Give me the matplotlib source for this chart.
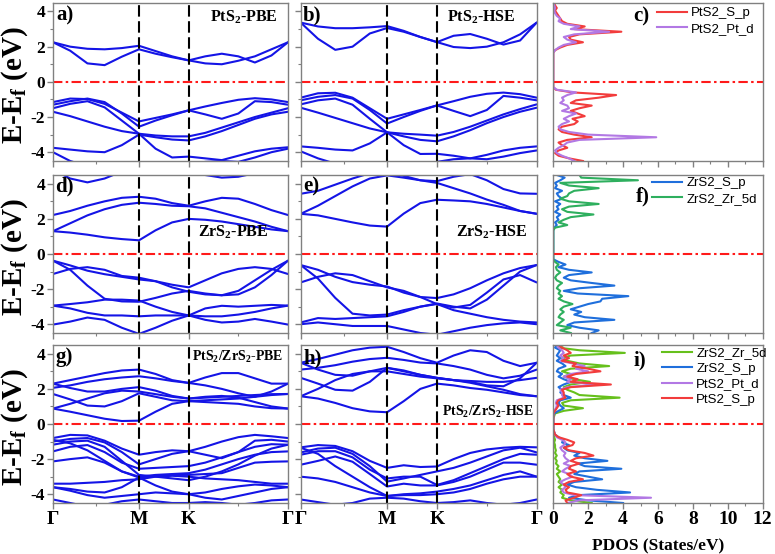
import numpy as np
import matplotlib
matplotlib.use('Agg')
import matplotlib.pyplot as plt

plt.rcParams['font.family'] = 'Liberation Serif'
plt.rcParams['font.weight'] = 'bold'
plt.rcParams['mathtext.fontset'] = 'custom'
plt.rcParams['mathtext.rm'] = 'Liberation Serif:bold'
plt.rcParams['mathtext.bf'] = 'Liberation Serif:bold'
plt.rcParams['mathtext.it'] = 'Liberation Serif:bold'
plt.rcParams['mathtext.default'] = 'bf'

# ---------------- k-path (hexagonal BZ: Γ-M-K-Γ) ----------------
k_labels = ['Γ', 'M', 'K', 'Γ']
seg_GM, seg_MK, seg_KG = 1 / np.sqrt(3), 1 / 3, 2 / 3
frac_GM = [0, 0.2, 0.4, 0.6, 0.8, 1.0]
frac_MK = [1 / 3, 2 / 3, 1.0]
frac_KG = [1 / 6, 2 / 6, 3 / 6, 4 / 6, 5 / 6, 1.0]
kpts = np.concatenate([seg_GM * np.array(frac_GM),
                       seg_GM + seg_MK * np.array(frac_MK),
                       seg_GM + seg_MK + seg_KG * np.array(frac_KG)])
k_M, k_K, k_end = seg_GM, seg_GM + seg_MK, seg_GM + seg_MK + seg_KG

# ---------------- band energies (eV) at the 15 k-points ----------------
pts2_pbe_bands = [
    [2.25, 1.77, 1.05, 0.95, 1.43, 1.85, 1.6, 1.4, 1.22, 1.05, 1.0, 1.2, 1.45, 1.85, 2.25],
    [2.25, 2.0, 1.88, 1.85, 1.92, 2.05, 1.75, 1.45, 1.22, 1.45, 1.6, 1.45, 1.1, 1.5, 2.25],
    [-1.15, -0.95, -0.98, -1.25, -1.75, -2.25, -2.05, -1.85, -1.62, -1.4, -1.2, -1.02, -0.93, -1.0, -1.15],
    [-1.3, -1.1, -0.95, -1.15, -1.8, -2.55, -2.2, -1.9, -1.62, -1.85, -2.1, -1.8, -1.1, -1.15, -1.3],
    [-1.5, -1.25, -1.1, -1.45, -2.2, -2.95, -3.8, -4.3, -4.25, -4.35, -4.45, -4.2, -3.95, -3.8, -3.72],
    [-1.7, -1.95, -2.25, -2.55, -2.8, -2.95, -3.05, -3.1, -3.1, -2.9, -2.6, -2.3, -2.0, -1.75, -1.5],
    [-3.75, -3.85, -3.95, -4.0, -3.6, -3.0, -3.15, -3.28, -3.33, -3.1, -2.8, -2.45, -2.1, -1.85, -1.7],
    [-4.0, -4.5, -4.8, -4.9, -4.9, -4.9, -4.9, -4.8, -4.7, -4.55, -4.5, -4.55, -4.3, -4.0, -3.8],
]
pts2_hse_bands = [
    [3.37, 2.45, 1.82, 2.0, 2.75, 3.06, 2.85, 2.55, 2.26, 1.98, 1.92, 2.0, 2.25, 2.7, 3.37],
    [3.37, 3.15, 3.05, 3.05, 3.1, 3.17, 2.9, 2.55, 2.26, 2.62, 2.72, 2.45, 2.12, 2.35, 3.37],
    [-0.9, -0.65, -0.62, -0.9, -1.5, -2.1, -1.85, -1.6, -1.34, -1.1, -0.85, -0.68, -0.61, -0.7, -0.9],
    [-1.05, -0.85, -0.75, -0.95, -1.6, -2.37, -2.0, -1.65, -1.34, -1.65, -1.95, -1.6, -0.8, -0.9, -1.05],
    [-1.28, -1.05, -0.95, -1.3, -2.1, -2.87, -3.6, -4.1, -4.09, -4.2, -4.35, -4.15, -3.9, -3.75, -3.67],
    [-1.47, -1.75, -2.05, -2.35, -2.65, -2.87, -2.95, -3.0, -3.06, -2.85, -2.55, -2.2, -1.85, -1.55, -1.28],
    [-3.67, -3.75, -3.85, -3.9, -3.5, -2.87, -3.1, -3.3, -3.38, -3.1, -2.75, -2.35, -2.0, -1.7, -1.47],
    [-3.95, -4.35, -4.65, -4.8, -4.8, -4.8, -4.8, -4.7, -4.55, -4.4, -4.35, -4.4, -4.25, -4.05, -3.9],
]
zrs2_pbe_bands = [
    [1.3, 1.22, 1.1, 0.95, 0.85, 0.78, 1.35, 1.8, 2.0, 1.95, 1.85, 1.7, 1.55, 1.4, 1.3],
    [1.3, 1.75, 2.2, 2.55, 2.8, 2.92, 2.85, 2.75, 2.72, 2.6, 2.35, 2.1, 1.85, 1.55, 1.3],
    [2.22, 2.45, 2.75, 3.0, 3.2, 3.26, 3.15, 2.9, 2.75, 3.0, 3.2, 3.15, 2.85, 2.5, 2.22],
    [4.8, 4.3, 4.08, 4.3, 4.7, 5.0, 4.9, 4.7, 4.6, 4.5, 4.35, 4.4, 4.6, 4.8, 4.8],
    [-0.38, -0.65, -0.95, -1.15, -1.3, -1.45, -1.55, -1.75, -1.9, -1.5, -1.1, -0.85, -0.75, -0.85, -1.14],
    [-1.14, -0.85, -0.75, -0.9, -1.25, -1.35, -1.55, -1.9, -2.15, -2.3, -2.35, -2.1, -1.5, -0.9, -0.38],
    [-0.38, -0.9, -1.8, -2.55, -2.7, -2.72, -2.5, -2.25, -2.1, -2.25, -2.35, -2.3, -1.9, -1.2, -0.38],
    [-2.94, -2.85, -2.75, -2.6, -2.6, -2.65, -3.0, -3.3, -3.5, -3.1, -2.95, -3.0, -2.95, -2.9, -2.94],
    [-2.94, -3.1, -3.35, -3.5, -3.5, -3.55, -3.5, -3.5, -3.5, -3.55, -3.55, -3.45, -3.3, -3.1, -2.94],
    [-4.02, -3.85, -3.62, -3.75, -4.2, -4.55, -4.2, -3.8, -3.5, -3.75, -3.9, -3.85, -3.7, -3.85, -4.02],
]
zrs2_hse_bands = [
    [2.29, 2.2, 2.0, 1.8, 1.62, 1.56, 2.3, 2.9, 3.09, 3.05, 3.0, 2.85, 2.65, 2.45, 2.29],
    [2.29, 2.75, 3.3, 3.85, 4.3, 4.48, 4.35, 4.2, 4.05, 3.75, 3.45, 3.1, 2.8, 2.45, 2.29],
    [3.43, 3.6, 3.95, 4.3, 4.6, 4.7, 4.45, 4.2, 4.15, 4.4, 4.55, 4.2, 3.7, 3.45, 3.43],
    [-0.63, -0.9, -1.3, -1.6, -1.75, -1.85, -2.2, -2.45, -2.51, -2.3, -1.95, -1.5, -1.1, -0.8, -0.63],
    [-0.63, -1.4, -2.5, -3.4, -3.5, -3.45, -3.2, -3.0, -2.82, -3.0, -3.1, -2.6, -1.8, -1.0, -0.63],
    [-1.62, -1.3, -1.1, -1.2, -1.55, -1.9, -2.1, -2.45, -2.85, -3.05, -2.9, -2.2, -1.45, -1.2, -1.62],
    [-3.9, -3.65, -3.7, -3.65, -3.6, -3.55, -3.3, -3.0, -2.85, -3.2, -3.4, -3.6, -3.75, -3.85, -3.9],
    [-4.0, -3.9, -4.0, -4.1, -4.1, -4.1, -4.3, -4.5, -4.6, -4.4, -4.2, -4.05, -3.95, -3.9, -4.0],
]
hetero_pbe_bands = [
    [0.88, 0.7, 0.5, 0.3, 0.17, 0.19, 0.7, 1.15, 1.3, 1.25, 1.2, 1.15, 1.0, 0.9, 0.88],
    [0.88, 1.15, 1.45, 1.75, 1.9, 1.85, 1.7, 1.55, 1.45, 1.55, 1.6, 1.5, 1.25, 1.0, 0.88],
    [1.71, 1.4, 1.05, 1.0, 1.3, 1.75, 1.55, 1.35, 1.3, 1.35, 1.4, 1.45, 1.55, 1.65, 1.71],
    [2.3, 2.05, 1.85, 1.85, 2.0, 2.1, 1.9, 1.6, 1.45, 1.5, 1.55, 1.6, 1.65, 1.7, 1.71],
    [2.06, 2.2, 2.4, 2.55, 2.65, 2.72, 2.6, 2.45, 2.34, 2.2, 2.0, 1.75, 1.55, 1.85, 2.3],
    [2.3, 2.5, 2.7, 2.9, 3.05, 3.1, 2.85, 2.5, 2.34, 2.65, 2.9, 2.9, 2.6, 2.3, 2.3],
    [-0.8, -0.62, -0.65, -0.95, -1.4, -1.75, -1.6, -1.5, -1.55, -1.3, -1.0, -0.75, -0.62, -0.7, -0.8],
    [-1.0, -0.85, -0.8, -1.05, -1.6, -2.3, -2.0, -1.7, -1.55, -1.75, -1.95, -1.6, -0.95, -0.9, -1.0],
    [-1.18, -1.0, -0.95, -1.3, -2.1, -2.9, -3.0, -3.1, -3.2, -3.0, -2.7, -2.3, -1.8, -1.4, -1.18],
    [-1.56, -1.3, -1.2, -1.6, -2.2, -2.55, -2.5, -2.45, -2.4, -2.2, -1.9, -1.6, -1.3, -1.15, -1.18],
    [-2.13, -2.0, -1.9, -2.2, -2.7, -3.0, -2.9, -2.85, -2.8, -2.6, -2.3, -2.0, -1.75, -1.6, -1.56],
    [-0.9, -1.1, -1.5, -2.1, -2.7, -3.05, -2.95, -2.9, -2.9, -2.85, -2.8, -2.5, -2.2, -2.15, -2.13],
    [-3.4, -3.4, -3.35, -3.3, -3.2, -3.15, -3.0, -2.95, -3.0, -3.1, -3.15, -3.2, -3.3, -3.4, -3.4],
    [-3.6, -3.7, -3.85, -3.9, -3.6, -3.05, -3.5, -3.85, -4.0, -3.9, -3.7, -3.55, -3.45, -3.5, -3.6],
    [-3.6, -3.8, -4.05, -4.2, -4.1, -4.0, -3.9, -3.95, -4.0, -4.2, -4.3, -4.1, -3.9, -3.7, -3.6],
    [-4.3, -4.5, -4.7, -4.6, -4.4, -4.3, -4.4, -4.5, -4.5, -4.45, -4.5, -4.6, -4.5, -4.35, -4.3],
]
hetero_hse_bands = [
    [1.58, 1.45, 1.2, 0.9, 0.72, 0.67, 1.3, 2.0, 2.3, 2.2, 2.05, 1.95, 1.8, 1.65, 1.58],
    [1.58, 2.0, 2.5, 2.85, 3.0, 3.0, 2.85, 2.7, 2.6, 2.5, 2.35, 2.15, 1.95, 1.7, 1.58],
    [2.63, 2.3, 1.95, 1.9, 2.4, 3.2, 3.0, 2.8, 2.63, 2.5, 2.45, 2.4, 2.4, 2.5, 2.63],
    [3.49, 3.1, 2.8, 2.75, 3.0, 3.2, 3.05, 2.8, 2.63, 2.5, 2.4, 2.2, 2.15, 2.6, 3.49],
    [3.1, 3.2, 3.35, 3.55, 3.7, 3.77, 3.65, 3.5, 3.45, 3.3, 3.1, 2.8, 2.6, 2.75, 3.1],
    [3.49, 3.7, 3.95, 4.2, 4.35, 4.4, 4.1, 3.75, 3.49, 3.9, 4.2, 4.1, 3.6, 3.3, 3.49],
    [-1.33, -1.2, -1.25, -1.55, -2.1, -2.5, -2.35, -2.45, -2.42, -2.0, -1.65, -1.45, -1.35, -1.3, -1.33],
    [-1.62, -1.4, -1.35, -1.7, -2.4, -3.28, -3.1, -2.9, -2.7, -2.5, -2.2, -1.85, -1.5, -1.35, -1.62],
    [-1.75, -1.55, -1.55, -1.9, -2.6, -3.1, -3.0, -3.0, -3.47, -3.2, -2.8, -2.4, -2.0, -1.7, -1.75],
    [-2.32, -2.1, -1.85, -2.15, -2.85, -3.56, -3.4, -3.5, -3.5, -3.3, -3.0, -2.6, -2.2, -2.2, -2.32],
    [-1.35, -1.7, -2.4, -3.0, -3.6, -4.1, -4.0, -3.95, -3.85, -3.7, -3.5, -3.2, -2.9, -2.7, -3.0],
    [-3.0, -3.1, -3.3, -3.6, -3.9, -4.1, -4.05, -4.05, -4.0, -3.9, -3.7, -3.4, -3.15, -3.0, -3.0],
    [-4.3, -4.45, -4.6, -4.5, -4.25, -4.2, -4.25, -4.4, -4.5, -4.45, -4.35, -4.5, -4.6, -4.5, -4.3],
]

# ---------------- PDOS (States/eV) on an energy grid (eV) ----------------
pdos_energy = [-4.5, -4.35, -4.2, -4.05, -3.9, -3.75, -3.6, -3.45, -3.3, -3.15, -3.0, -2.85, -2.7,
               -2.55, -2.4, -2.25, -2.1, -1.95, -1.8, -1.65, -1.5, -1.35, -1.2, -1.05, -0.9, -0.75,
               -0.6, -0.45, -0.3, -0.15, 0.0, 0.15, 0.3, 0.45, 0.6, 0.75, 0.9, 1.05, 1.2, 1.35, 1.5,
               1.65, 1.8, 1.95, 2.1, 2.25, 2.4, 2.55, 2.7, 2.85, 3.0, 3.15, 3.3, 3.45, 3.6, 3.75,
               3.9, 4.05, 4.2, 4.35, 4.5]

pts2_S_p = [1.7, 0.9, 0.3, 0.1, 0.3, 0.8, 0.5, 0.3, 0.8, 2.2, 1.2, 0.5, 0.3, 0.5, 1.2, 1.4, 1.1,
            1.8, 1.4, 1.0, 1.5, 2.2, 1.0, 1.3, 2.6, 3.6, 1.1, 0.15, 0.0,
            0, 0, 0, 0, 0, 0, 0, 0, 0, 0, 0, 0, 0,
            0.1, 0.4, 0.8, 1.7, 1.0, 0.9, 1.5, 3.9, 1.2, 1.8, 0.8, 0.5, 0.4, 0.3, 0.2, 0.1,
            0.2, 0.1, 0.05]
pts2_Pt_d = [1.2, 0.9, 0.5, 0.2, 0.1, 0.3, 0.6, 0.8, 1.5, 5.9, 2.0, 0.9, 0.4, 0.3, 0.5, 0.9, 0.6,
             0.9, 1.3, 0.5, 0.9, 0.8, 0.4, 0.6, 0.5, 0.8, 1.3, 0.2, 0.0,
             0, 0, 0, 0, 0, 0, 0, 0, 0, 0, 0, 0, 0,
             0.1, 0.3, 0.6, 1.3, 0.8, 0.6, 1.2, 3.2, 1.0, 1.5, 0.6, 0.3, 0.4, 0.2, 0.1, 0.05,
             0.1, 0.05, 0.0]

zrs2_S_p = [2.2, 2.6, 1.5, 0.8, 1.2, 3.5, 1.8, 1.2, 1.6, 1.0, 1.5, 2.0, 2.7, 2.8, 4.3, 1.4, 0.6,
            1.5, 3.5, 2.2, 1.0, 0.6, 0.9, 2.2, 0.9, 0.3, 0.7, 0.3, 0.0,
            0, 0, 0, 0, 0, 0, 0, 0, 0, 0, 0,
            0.05, 0.2, 0.1, 0.3, 0.2, 0.4, 0.1, 0.3, 0.2, 0.4, 0.1, 0.5, 0.3, 0.2, 0.5, 0.1,
            0.2, 0.1, 0.4, 0.65, 0.2]
zrs2_Zr_5d = [1.0, 0.4, 1.0, 0.2, 0.4, 0.6, 0.3, 0.4, 0.6, 0.4, 0.6, 1.1, 0.6, 0.3, 0.5, 0.3, 0.4,
              0.2, 0.3, 0.5, 0.2, 0.1, 0.2, 0.4, 0.2, 0.15, 0.3, 0.1, 0.0,
              0, 0, 0, 0, 0, 0, 0, 0, 0, 0, 0,
              0.1, 0.8, 0.3, 0.6, 1.0, 2.3, 0.8, 0.5, 0.9, 2.6, 0.9, 0.4, 0.8, 0.9, 1.2, 2.6,
              0.9, 0.4, 4.85, 1.6, 1.5]

het_Zr_5d = [2.2, 1.0, 0.5, 0.6, 0.4, 0.5, 0.3, 0.5, 0.3, 0.4, 0.3, 0.2, 0.4, 0.2, 0.3, 0.15,
             0.2, 0.1, 0.2, 0.1, 0.15, 0.1, 0.1, 0.05, 0.1, 0.05, 0.05, 0.0, 0.0,
             0, 0, 0, 0, 0.05,
             0.1, 0.6, 1.7, 0.6, 0.5, 1.0, 3.8, 1.5, 1.2, 0.8, 0.6, 1.0, 2.1, 1.2, 0.6, 1.0,
             0.5, 1.0, 3.2, 1.5, 0.8, 0.5, 1.0, 4.1, 1.5, 0.3, 0.6]
het_ZrS2_S_p = [4.0, 2.0, 0.9, 1.5, 4.4, 2.5, 1.3, 0.8, 1.2, 2.8, 2.0, 1.2, 1.5, 3.9, 1.8, 1.4,
                3.1, 1.8, 1.2, 1.5, 0.8, 0.6, 0.9, 0.5, 0.6, 0.3, 0.1, 0.05, 0.0,
                0, 0, 0, 0, 0,
                0.05, 0.3, 0.6, 0.4, 0.3, 0.4, 1.0, 0.6, 0.4, 0.5, 0.3, 0.6, 1.0, 0.6, 0.3, 0.5,
                0.2, 0.3, 0.7, 0.5, 0.2, 0.4, 0.2, 0.3, 0.4, 0.1, 0.2]
het_Pt_d = [0.8, 1.5, 5.6, 1.2, 0.6, 0.5, 0.7, 0.6, 0.4, 0.7, 1.1, 0.9, 0.5, 0.7, 1.0, 0.6,
            0.9, 0.7, 0.6, 0.7, 0.5, 0.4, 0.6, 0.7, 0.5, 0.2, 0.1, 0.05, 0.0,
            0, 0, 0, 0, 0,
            0.0, 0.05, 0.15, 0.2, 0.15, 0.2, 0.6, 0.5, 0.5, 0.4, 0.8, 2.6, 0.8, 1.0, 0.6, 1.0,
            2.0, 1.3, 1.8, 1.1, 0.4, 0.6, 0.4, 0.6, 0.5, 0.3, 0.2]
het_PtS2_S_p = [0.8, 0.7, 1.2, 1.6, 0.8, 0.7, 0.9, 0.6, 0.9, 1.7, 1.0, 0.8, 1.3, 0.9, 1.0, 1.5,
                1.0, 1.3, 2.3, 1.8, 0.9, 0.6, 1.1, 1.2, 0.8, 0.3, 0.1, 0.05, 0.0,
                0, 0, 0, 0, 0,
                0.0, 0.1, 0.2, 0.3, 0.2, 0.3, 0.7, 0.6, 0.6, 0.5, 1.0, 3.3, 1.0, 1.4, 0.8, 1.3,
                2.7, 2.0, 1.1, 1.3, 0.5, 0.9, 0.6, 1.0, 0.8, 0.5, 0.3]

# ---------------- styling ----------------
band_color = '#1414e6'
c_red, c_purple = '#f23c3c', '#b278e4'
c_blue, c_green_f, c_green_i = '#1f6fdc', '#2eaf5e', '#66c01c'
frame_color = '#808080'
zero_style = dict(color='#ff1a1a', lw=1.5, ls=(0, (4.5, 1.6, 1.2, 1.6)))
vline_style = dict(color='black', lw=1.5, ls=(0, (5.5, 2.2)))

W, H = 775, 554
fig = plt.figure(figsize=(W / 100, H / 100), dpi=100)


def add_ax(l, r, t, b):
    return fig.add_axes([l / W, 1 - b / H, (r - l) / W, (b - t) / H])


def ftext(x, y, s, **kw):
    fig.text(x / W, 1 - y / H, s, **kw)


cols = [(53, 288), (300.7, 536.7), (553.3, 762.7)]
rows = [(2.7, 161), (175, 333), (345, 503)]


def style_frame(ax):
    for sp in ax.spines.values():
        sp.set_color(frame_color)
        sp.set_linewidth(1.0)
    ax.tick_params(which='both', direction='out', color=frame_color)
    ax.tick_params(which='major', length=4, width=1)
    ax.tick_params(which='minor', length=2.5, width=0.8)


def band_panel(ax, bands, show_x, show_y):
    for b in bands:
        ax.plot(kpts, b, color=band_color, lw=1.5, solid_capstyle='round')
    ax.axhline(0, **zero_style)
    for kv in (k_M, k_K):
        ax.axvline(kv, **vline_style)
    ax.set_xlim(0, k_end)
    ax.set_ylim(-4.5, 4.5)
    ax.set_xticks([0, k_M, k_K, k_end])
    ax.set_xticks([k_M / 2, (k_K + k_end) / 2], minor=True)
    ax.set_yticks([-4, -2, 0, 2, 4])
    ax.set_yticks([-3, -1, 1, 3], minor=True)
    style_frame(ax)
    if show_x:
        ax.set_xticklabels(k_labels, fontsize=14, fontweight='bold')
        ax.tick_params(axis='x', pad=2)
    else:
        ax.set_xticklabels([])
    if show_y:
        ax.set_yticklabels(['-4', '-2', '0', '2', '4'], fontsize=12.5, fontweight='bold')
        ax.tick_params(axis='y', pad=1.5)
    else:
        ax.set_yticklabels([])


def pdos_panel(ax, series, show_x):
    for vals, color, lab in series:
        ax.plot(vals, pdos_energy, color=color, lw=1.5, label=lab)
    ax.axhline(0, **zero_style)
    ax.set_xlim(0, 12)
    ax.set_ylim(-4.5, 4.5)
    ax.set_xticks([0, 2, 4, 6, 8, 10, 12])
    ax.set_xticks([1, 3, 5, 7, 9, 11], minor=True)
    ax.set_yticks([])
    style_frame(ax)
    if show_x:
        ax.set_xticklabels(['0', '2', '4', '6', '8', '10', '12'], fontsize=14, fontweight='bold')
        ax.tick_params(axis='x', pad=2)
    else:
        ax.set_xticklabels([])


band_sets = [[pts2_pbe_bands, pts2_hse_bands],
             [zrs2_pbe_bands, zrs2_hse_bands],
             [hetero_pbe_bands, hetero_hse_bands]]
pdos_sets = [
    [(pts2_S_p, c_red, 'PtS2_S_p'), (pts2_Pt_d, c_purple, 'PtS2_Pt_d')],
    [(zrs2_S_p, c_blue, 'ZrS2_S_p'), (zrs2_Zr_5d, c_green_f, 'ZrS2_Zr_5d')],
    [(het_Zr_5d, c_green_i, 'ZrS2_Zr_5d'), (het_ZrS2_S_p, c_blue, 'ZrS2_S_p'),
     (het_Pt_d, c_purple, 'PtS2_Pt_d'), (het_PtS2_S_p, c_red, 'PtS2_S_p')],
]
legend_pos = [(657, 7), (652, 177), (662, 347)]

for r, (t, b) in enumerate(rows):
    for c in range(2):
        ax = add_ax(cols[c][0], cols[c][1], t, b)
        band_panel(ax, band_sets[r][c], show_x=(r == 2), show_y=(c == 0))
    axp = add_ax(cols[2][0], cols[2][1], t, b)
    pdos_panel(axp, pdos_sets[r], show_x=(r == 2))
    lx, ly = legend_pos[r]
    axp.legend(loc='upper left', bbox_to_anchor=(lx / W, 1 - ly / H),
               bbox_transform=fig.transFigure, frameon=False, borderpad=0,
               borderaxespad=0, handlelength=2.3, handletextpad=0.3,
               labelspacing=0.25, prop={'family': 'Liberation Sans', 'weight': 'normal', 'size': 9.5})
    # y-axis label
    ftext(15, (t + b) / 2 + 3, 'E-E$_f$ (eV)', rotation=90, ha='center', va='center',
          fontsize=21, fontweight='bold')

# panel letters
letters = [('a)', 56, 15), ('b)', 303, 15), ('c)', 633, 16),
           ('d)', 55, 186), ('e)', 303, 186), ('f)', 636, 196),
           ('g)', 55, 357), ('h)', 303, 358), ('i)', 634, 360)]
for s, x, y in letters:
    ftext(x, y, s, ha='left', va='center', fontsize=15, fontweight='bold')

# system labels
ftext(244, 17, 'PtS$_2$-PBE', ha='center', va='center', fontsize=11.5, fontweight='bold')
ftext(481, 17, 'PtS$_2$-HSE', ha='center', va='center', fontsize=11.5, fontweight='bold')
ftext(233, 232, 'ZrS$_2$-PBE', ha='center', va='center', fontsize=11.5, fontweight='bold')
ftext(492, 232, 'ZrS$_2$-HSE', ha='center', va='center', fontsize=11.5, fontweight='bold')
ftext(238, 357, 'PtS$_2$/ZrS$_2$-PBE', ha='center', va='center', fontsize=10, fontweight='bold')
ftext(488, 412, 'PtS$_2$/ZrS$_2$-HSE', ha='center', va='center', fontsize=10, fontweight='bold')

ftext(658, 546, 'PDOS (States/eV)', ha='center', va='center', fontsize=12.5, fontweight='bold')

fig.savefig('out.png', dpi=100)
